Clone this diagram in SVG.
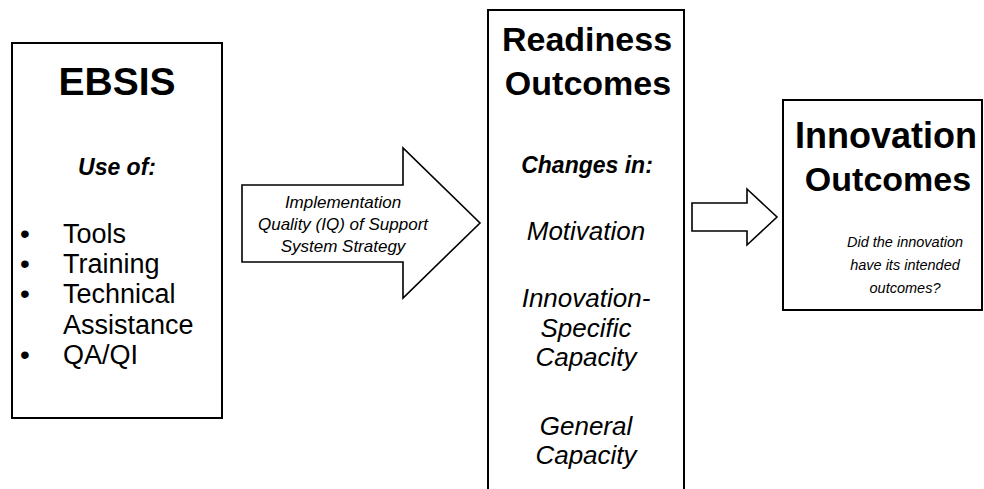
<svg xmlns="http://www.w3.org/2000/svg" width="984" height="489" viewBox="0 0 984 489">
  <style>
    .box { fill: #ffffff; stroke: #000000; stroke-width: 2; }
    .arrow { fill: #ffffff; stroke: #000000; stroke-width: 1.6; stroke-linejoin: miter; }
    text { font-family: "Liberation Sans", Arial, sans-serif; fill: #000000; }
    .title { font-weight: bold; font-size: 34px; text-anchor: middle; }
    .sub { font-weight: bold; font-style: italic; font-size: 23px; text-anchor: middle; }
    .item { font-size: 27px; }
    .dot { font-size: 28px; text-anchor: middle; }
    .it { font-style: italic; font-size: 26px; text-anchor: middle; }
    .small { font-style: italic; font-size: 14.5px; text-anchor: middle; }
    .label { font-style: italic; font-size: 17px; text-anchor: middle; }
  </style>

  <rect width="984" height="489" fill="#ffffff"/>

  <!-- connectors: block arrows between the stages -->
  <g id="connectors">
    <polygon class="arrow" points="242,185 403,185 403,148 480,223 403,298 403,262 242,262"/>
    <polygon class="arrow" points="692,203 747,203 747,189 777,217 747,245 747,231 692,231"/>
  </g>

  <!-- label carried by the large arrow -->
  <g id="iq-label">
    <text class="label" x="343" y="208">Implementation</text>
    <text class="label" x="343" y="230">Quality (IQ) of Support</text>
    <text class="label" x="343" y="252">System Strategy</text>
  </g>

  <!-- stage 1: support system -->
  <g id="ebsis">
    <rect class="box" x="12" y="43" width="210" height="375"/>
    <text class="title" x="117" y="95" style="font-size:39px">EBSIS</text>
    <text class="sub" x="117" y="175">Use of:</text>
    <text class="dot" x="25" y="243">•</text>
    <text class="item" x="63" y="243">Tools</text>
    <text class="dot" x="25" y="273">•</text>
    <text class="item" x="63" y="273">Training</text>
    <text class="dot" x="25" y="303">•</text>
    <text class="item" x="63" y="303">Technical</text>
    <text class="item" x="63" y="334">Assistance</text>
    <text class="dot" x="25" y="364">•</text>
    <text class="item" x="63" y="364">QA/QI</text>
  </g>

  <!-- stage 2: readiness outcomes (column runs off the bottom edge) -->
  <g id="readiness">
    <rect class="box" x="488" y="10" width="196" height="490"/>
    <text class="title" x="587" y="51">Readiness</text>
    <text class="title" x="588" y="95">Outcomes</text>
    <text class="sub" x="587" y="173">Changes in:</text>
    <text class="it" x="586" y="240">Motivation</text>
    <text class="it" x="586" y="307">Innovation-</text>
    <text class="it" x="586" y="337">Specific</text>
    <text class="it" x="586" y="366">Capacity</text>
    <text class="it" x="586" y="435">General</text>
    <text class="it" x="586" y="464">Capacity</text>
  </g>

  <!-- stage 3: innovation outcomes -->
  <g id="innovation">
    <rect class="box" x="783" y="100" width="199" height="210"/>
    <text class="title" x="886" y="148" style="font-size:36px">Innovation</text>
    <text class="title" x="888" y="191">Outcomes</text>
    <text class="small" x="905" y="247">Did the innovation</text>
    <text class="small" x="905" y="270">have its intended</text>
    <text class="small" x="905" y="293">outcomes?</text>
  </g>
</svg>
